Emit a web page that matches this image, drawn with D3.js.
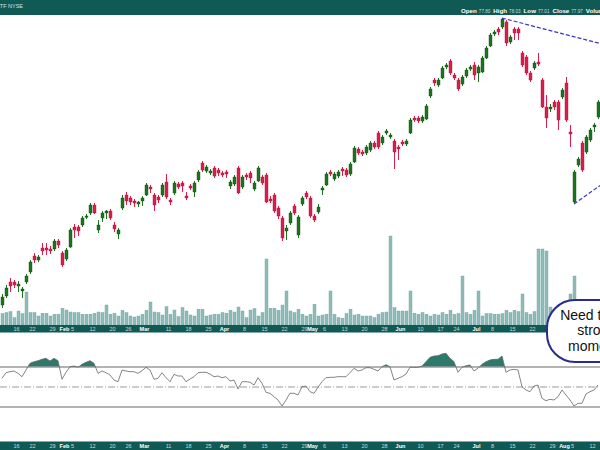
<!DOCTYPE html>
<html><head><meta charset="utf-8">
<script src="https://cdn.jsdelivr.net/npm/d3@7"></script>
<style>body{margin:0;background:#fff}svg{display:block;font-family:"Liberation Sans",Arial,sans-serif}</style>
</head><body><svg id="c" width="600" height="450"></svg>
<script>
// ---------- DATA ----------
const dates = ("01-09 01-10 01-11 01-12 01-16 01-17 01-18 01-19 01-22 01-23 01-24 01-25 01-26 01-29 01-30 01-31 " +
"02-01 02-02 02-05 02-06 02-07 02-08 02-09 02-12 02-13 02-14 02-15 02-16 02-20 02-21 02-22 02-23 02-26 02-27 02-28 02-29 " +
"03-01 03-04 03-05 03-06 03-07 03-08 03-11 03-12 03-13 03-14 03-15 03-18 03-19 03-20 03-21 03-22 03-25 03-26 03-27 03-28 " +
"04-01 04-02 04-03 04-04 04-05 04-08 04-09 04-10 04-11 04-12 04-15 04-16 04-17 04-18 04-19 04-22 04-23 04-24 04-25 04-26 04-29 04-30 " +
"05-01 05-02 05-03 05-06 05-07 05-08 05-09 05-10 05-13 05-14 05-15 05-16 05-17 05-20 05-21 05-22 05-23 05-24 05-28 05-29 05-30 05-31 " +
"06-03 06-04 06-05 06-06 06-07 06-10 06-11 06-12 06-13 06-14 06-17 06-18 06-20 06-21 06-24 06-25 06-26 06-27 06-28 " +
"07-01 07-02 07-03 07-05 07-08 07-09 07-10 07-11 07-12 07-15 07-16 07-17 07-18 07-19 07-22 07-23 07-24 07-25 07-26 07-29 07-30 07-31 " +
"08-01 08-02 08-05 08-06 08-07 08-08 08-09 08-12 08-13").split(" ");

const opens = [57.5,58.4,59.8,59.8,59.4,58.9,59.8,60.8,62.4,62.0,
63.2,63.2,63.1,63.1,63.9,62.7,62.1,63.3,65.3,65.3,
65.5,66.3,66.7,67.5,65.0,66.2,66.7,66.9,65.5,64.6,
67.2,68.5,68.2,67.9,67.6,67.9,68.5,69.3,68.5,68.3,
68.5,69.8,68.0,68.7,69.6,69.7,68.4,69.4,68.8,70.0,
71.7,70.9,70.7,71.2,71.0,70.7,70.8,69.4,69.6,71.2,
69.3,70.5,70.7,69.1,69.9,70.3,70.5,68.1,68.5,67.2,
66.2,64.9,65.7,67.4,64.5,67.6,68.7,68.2,66.4,66.8,
69.0,69.5,70.8,70.1,70.4,71.1,71.0,70.6,71.8,73.1,
72.8,72.7,73.0,73.7,74.7,73.7,74.7,74.3,73.9,73.3,
73.8,73.6,74.7,76.2,76.2,75.9,76.1,78.4,80.0,79.5,
80.2,81.3,81.9,80.5,80.0,79.6,80.4,81.1,81.5,80.7,
80.8,82.2,83.4,84.6,85.1,85.3,85.8,83.8,85.1,85.1,
82.7,82.3,80.7,81.2,81.8,80.0,77.3,77.1,77.8,77.8,
78.3,79.7,74.8,67.8,71.5,73.7,72.8,74.0,75.3,76.3];

const highs = [58.6,59.5,60.2,60.0,59.9,59.3,60.6,62.0,62.7,62.5,
63.7,63.7,63.4,64.1,64.1,62.9,63.2,65.2,65.6,65.5,
66.4,66.6,67.7,67.7,66.0,66.9,67.0,67.1,65.8,65.2,
68.5,68.8,68.4,68.1,67.9,68.4,69.7,69.5,68.7,68.5,
69.7,70.6,68.2,69.9,69.8,69.9,68.8,69.6,69.9,71.0,
71.9,71.5,71.1,71.4,71.2,70.9,71.0,70.0,70.5,71.4,
70.5,70.7,70.9,69.9,71.4,70.5,70.7,68.4,68.7,67.4,
66.4,65.5,66.9,67.6,66.5,68.4,68.9,68.4,66.6,67.6,
69.4,70.8,71.0,70.8,71.0,71.3,71.2,71.8,73.4,73.3,
73.0,73.5,73.9,73.9,74.9,74.5,75.1,74.7,74.1,73.5,
74.0,74.1,76.2,76.4,76.4,76.5,77.6,79.3,80.2,80.2,
81.4,81.7,82.1,80.7,80.2,80.5,81.2,81.5,81.8,81.5,
82.4,83.4,84.7,85.0,85.3,86.2,86.0,84.5,85.3,85.3,
82.9,82.5,80.9,81.9,82.7,80.2,78.5,77.6,78.0,78.0,
79.2,80.3,75.5,71.0,72.3,73.9,74.5,75.2,75.7,78.0];

const lows = [57.2,58.2,58.8,59.2,58.8,58.2,59.6,60.6,61.7,61.8,
62.5,62.5,62.6,62.9,63.2,61.3,61.9,63.2,64.2,64.4,
65.3,66.1,66.5,66.6,64.7,65.8,66.1,66.0,64.8,64.1,
67.0,67.5,67.5,67.3,67.3,67.4,68.4,68.7,66.9,67.7,
68.3,68.1,67.5,68.5,69.1,68.8,68.0,69.0,68.3,69.8,
70.8,70.7,70.5,70.2,70.4,70.3,70.2,69.1,69.4,68.6,
69.1,70.0,69.7,68.9,69.8,69.5,67.7,67.7,66.7,66.1,
63.9,64.0,65.5,66.5,64.2,67.4,68.1,66.2,65.8,66.6,
68.5,69.4,70.4,69.9,70.2,70.4,70.3,70.4,71.7,72.5,
72.4,72.5,72.8,73.1,73.1,73.5,74.5,74.1,71.1,72.0,
73.4,73.4,74.6,75.8,75.7,75.7,76.0,78.2,79.4,79.3,
80.1,81.1,80.5,80.0,78.9,79.4,80.2,80.9,80.0,79.8,
80.7,82.1,83.3,84.4,84.5,85.1,83.4,83.6,84.0,84.0,
81.3,80.5,79.8,81.0,81.4,77.2,75.2,76.8,77.0,75.0,
78.1,75.8,73.3,67.6,71.3,70.8,72.6,73.8,74.8,76.1];

const closes = [58.3,59.2,59.4,59.5,59.6,59.1,60.4,61.8,62.0,62.3,
62.9,63.0,62.9,63.9,63.5,61.5,63.0,65.0,65.0,64.9,
66.2,66.4,67.5,66.7,65.5,66.7,66.9,66.2,65.1,65.0,
68.2,67.9,67.8,67.7,67.8,68.2,69.5,69.1,67.5,68.0,
69.5,68.3,67.8,69.7,69.3,69.4,68.2,69.2,69.7,70.8,
71.0,71.3,70.9,70.4,70.7,70.5,70.6,69.8,70.3,68.7,
70.3,70.3,70.2,69.7,71.2,69.7,67.8,67.9,66.9,66.4,
64.2,65.2,66.7,66.7,66.3,68.2,68.3,66.4,66.0,67.3,
69.2,70.6,70.6,70.6,70.8,70.9,70.5,71.6,73.2,72.7,
72.6,73.3,73.7,73.3,73.3,74.3,74.9,74.5,72.8,73.1,
73.6,73.9,76.0,76.0,75.9,76.3,77.4,79.1,79.7,80.0,
81.2,81.5,80.7,80.2,79.1,80.3,81.0,81.3,80.5,81.3,
82.2,83.2,84.5,84.8,84.8,86.1,83.7,84.3,84.7,84.7,
81.5,80.7,80.0,81.7,81.6,77.3,76.2,77.3,77.3,76.0,
79.0,76.0,74.6,70.8,72.1,71.0,74.3,75.0,75.5,77.8];

// volume, millions of shares
const volumes = [5.7,6.2,6.7,3.7,7.0,5.7,16.5,6.2,6.2,4.5,
5.9,5.9,4.5,5.4,5.4,8.4,7.5,6.5,6.2,6.2,
5.4,5.4,5.4,5.9,6.5,6.2,10.0,5.4,5.9,4.5,
7.4,6.2,4.5,4.0,4.5,5.4,7.4,11.5,6.5,6.2,
5.0,9.2,5.4,7.5,4.2,8.7,7.0,5.0,4.5,7.9,
7.9,4.5,5.0,5.4,5.4,6.2,5.9,7.4,6.5,9.0,
7.0,3.7,7.5,8.2,4.5,6.2,33.0,8.4,8.4,7.4,
10.0,17.0,7.0,6.2,7.9,5.4,4.5,5.4,10.4,4.5,
5.0,5.4,17.0,5.4,3.7,3.4,5.7,7.9,5.0,5.4,
4.5,4.5,4.5,3.7,5.4,6.2,6.5,44.5,8.7,7.0,
7.0,7.0,17.0,5.9,5.4,6.2,5.4,4.5,5.4,5.0,
6.2,5.4,7.4,5.4,5.7,24.5,6.2,5.4,7.4,17.0,
4.5,5.7,5.7,5.4,5.4,5.7,7.4,6.2,7.4,6.7,
15.5,6.2,5.4,6.7,38.0,38.0,37.0,9.0,8.0,10.0,
9.0,11.0,15.5,24.5,12.0,10.0,9.0,8.0,7.0,8.0];

// RSI(14)
const rsi = [58.7,64.3,65.3,66,63.7,60.3,67,73.7,75.3,76.3,
77.7,78.7,76,78.7,76.3,57.7,64.7,70.3,71,69.7,
72.7,74.7,76.3,73.7,63.7,66,64.3,62,57,55.3,
67,66,65.3,65.3,63.7,66.3,69.7,67,57.7,58.7,
64.3,59.3,55.3,62.7,61,61,55.3,58,60.3,64.3,
64.7,64.7,63,60.3,61,59.3,60.3,56,57,48,
55.3,55.3,54.7,52,59.3,53.7,44.7,43.7,40.3,37,
31,37,43.7,43.7,42,50.3,51,45.3,43.7,49.7,
55.3,59.3,59.7,59.7,60.3,60.3,60.3,64.3,68.7,66,
67,69.3,69.3,67.7,66,70.3,72.3,70.3,57,58.7,
60.3,63,69.7,69.7,69.7,71,75.3,79.7,81,81.3,
83,83.7,78.7,75.3,64.7,69.7,71.3,72,66,68.7,
72.7,75.3,77,77.7,77.7,81,64.7,67,67.7,67,
50.3,47,45.3,51,52,38.7,36.3,37.7,37,40.3,
47,42,37,31,33.7,33.7,43,45.3,47,52];

const tickDates  = ["01-16","01-22","01-29","02-01","02-05","02-12","02-20","02-26","03-01","03-11","03-18","03-25","04-01","04-08","04-15","04-22","04-29","05-01","05-06","05-13","05-20","05-28","06-03","06-10","06-17","06-24","07-01","07-08","07-15","07-22","07-29","08-01","08-05","08-12"];
const tickLabels = ["16","22","29","Feb","5","12","20","26","Mar","11","18","25","Apr","8","15","22","29","May","6","13","20","28","Jun","10","17","24","Jul","8","15","22","29","Aug","5","12"];

const rsiLevels = [70, 30];
const rsiMid = 50;
const trendUpper = [["07-10", 86.2], ["08-13", 83.7]];
const trendLower = [["08-05", 67.6], ["08-13", 69.3]];
const headerLabels = ["Open", "High", "Low", "Close", "Volume"];
const headerValues = ["77.80", "78.03", "77.01", "77.97", ""];
const headerTitle = "SPDR ETF NYSE";
const calloutLines = ["Need to show", "stronger", "momentum"];

// ---------- DRAW ----------
const TEAL = "#0f5a55";
const UP = "#1d741f", UPS = "#0f4a10";
const DN = "#d81e4c", DNS = "#b3123b";
const svg = d3.select("#c");

const x = d3.scaleBand().domain(dates).range([0, 600]).padding(0);
const bw = x.bandwidth();
const yP = d3.scaleLinear().domain([55.5, 86.5]).range([325, 15]);
const yV = d3.scaleLinear().domain([0, 50]).range([325, 225]);
const yR = d3.scaleLinear().domain([0, 100]).range([437, 337]);

const data = dates.map((d, i) => ({d, o: opens[i], h: highs[i], l: lows[i], c: closes[i], v: volumes[i], r: rsi[i]}));

// volume
svg.append("g").selectAll("rect").data(data).join("rect")
  .attr("x", d => x(d.d) + 1).attr("width", bw - 1)
  .attr("y", d => yV(d.v)).attr("height", d => yV(0) - yV(d.v))
  .attr("fill", "#8ebcb9").attr("stroke", "#6fa29e").attr("stroke-width", 0.4);

// candles
const cg = svg.append("g");
cg.selectAll("line").data(data).join("line")
  .attr("x1", d => x(d.d) + 2.5).attr("x2", d => x(d.d) + 2.5)
  .attr("y1", d => yP(d.h)).attr("y2", d => yP(d.l))
  .attr("stroke", d => d.c >= d.o ? UP : DN).attr("stroke-width", 1);
cg.selectAll("rect").data(data).join("rect")
  .attr("x", d => x(d.d) + 1).attr("width", bw - 1)
  .attr("y", d => yP(Math.max(d.o, d.c)))
  .attr("height", d => Math.max(1.2, Math.abs(yP(d.o) - yP(d.c))))
  .attr("fill", d => d.c >= d.o ? UP : DN)
  .attr("stroke", d => d.c >= d.o ? UPS : DNS).attr("stroke-width", 0.4);

// trend lines
function trend(pts) {
  const x1 = x(pts[0][0]) + 2, y1 = yP(pts[0][1]);
  const x2 = x(pts[1][0]) + 2, y2 = yP(pts[1][1]);
  const s = (y2 - y1) / (x2 - x1);
  svg.append("line").attr("x1", x1).attr("y1", y1).attr("x2", 600).attr("y2", y1 + s * (600 - x1))
    .attr("stroke", "#3838c8").attr("stroke-width", 1.2).attr("stroke-dasharray", "4,2");
}
trend(trendUpper);
trend(trendLower);

// header
svg.append("rect").attr("x", 0).attr("y", 0).attr("width", 600).attr("height", 15).attr("fill", TEAL);
svg.append("text").attr("x", 23).attr("y", 8).attr("text-anchor", "end")
  .attr("font-size", 5.5).attr("fill", "#d5e4e2").text(headerTitle);
{
  let hx = 461;
  headerLabels.forEach((lab, i) => {
    const t = svg.append("text").attr("x", hx).attr("y", 13).attr("font-size", 6.2)
      .attr("font-weight", "bold").attr("fill", "#ffffff").text(lab);
    hx += t.node().getComputedTextLength() + 2;
    if (headerValues[i]) {
      const v = svg.append("text").attr("x", hx).attr("y", 13).attr("font-size", 4.6)
        .attr("fill", "#c9dbd9").text(headerValues[i]);
      hx += v.node().getComputedTextLength() + 3;
    }
  });
}

// axis bands (labels under the callout box are hidden in the middle band)
const bands = [[325, 7.5, 331, 545], [441.5, 8.5, 447.6, 600]];
bands.forEach(([by, bh, ty, maxX]) => {
  svg.append("rect").attr("x", 0).attr("y", by).attr("width", 600).attr("height", bh).attr("fill", TEAL);
  const idx = tickDates.map((d, i) => i).filter(i => x(tickDates[i]) + 0.5 < maxX);
  svg.append("g").selectAll("text").data(idx).join("text")
    .attr("x", i => x(tickDates[i]) + 0.5).attr("y", ty).attr("text-anchor", "middle")
    .attr("font-size", 5.5)
    .attr("font-weight", i => /[A-Za-z]/.test(tickLabels[i]) ? "bold" : "normal")
    .attr("fill", i => /[A-Za-z]/.test(tickLabels[i]) ? "#ffffff" : "#c9dbd9")
    .text(i => tickLabels[i]);
});

// RSI panel
const defs = svg.append("defs");
defs.append("clipPath").attr("id", "above").append("rect")
  .attr("x", 0).attr("y", 333).attr("width", 600).attr("height", yR(70) - 333);
defs.append("clipPath").attr("id", "below").append("rect")
  .attr("x", 0).attr("y", yR(30)).attr("width", 600).attr("height", 441 - yR(30));
const xc = d => x(d.d) + 2;
svg.append("path").datum(data).attr("clip-path", "url(#above)")
  .attr("d", d3.area().x(xc).y0(yR(70)).y1(d => yR(d.r)))
  .attr("fill", "#2c7a6c");
svg.append("path").datum(data).attr("clip-path", "url(#below)")
  .attr("d", d3.area().x(xc).y0(yR(30)).y1(d => yR(d.r)))
  .attr("fill", "#2c7a6c");
rsiLevels.forEach(l => {
  svg.append("line").attr("x1", 0).attr("x2", 600).attr("y1", yR(l)).attr("y2", yR(l))
    .attr("stroke", "#9a9a9a").attr("stroke-width", 1.3);
});
svg.append("line").attr("x1", 0).attr("x2", 600).attr("y1", yR(rsiMid)).attr("y2", yR(rsiMid))
  .attr("stroke", "#9a9a9a").attr("stroke-width", 1).attr("stroke-dasharray", "7,2,1,2");
svg.append("path").datum(data).attr("d", d3.line().x(xc).y(d => yR(d.r)))
  .attr("fill", "none").attr("stroke", "#666666").attr("stroke-width", 0.8);

// callout
svg.append("rect").attr("x", 547).attr("y", 300).attr("width", 112).attr("height", 62)
  .attr("rx", 28).attr("ry", 28).attr("fill", "#ffffff").attr("stroke", "#2b2b8e").attr("stroke-width", 2);
svg.append("g").selectAll("text").data(calloutLines).join("text")
  .attr("x", 603).attr("y", (d, i) => 319.5 + i * 15.7).attr("text-anchor", "middle")
  .attr("font-size", 14).attr("fill", "#111").text(d => d);
</script></body></html>
